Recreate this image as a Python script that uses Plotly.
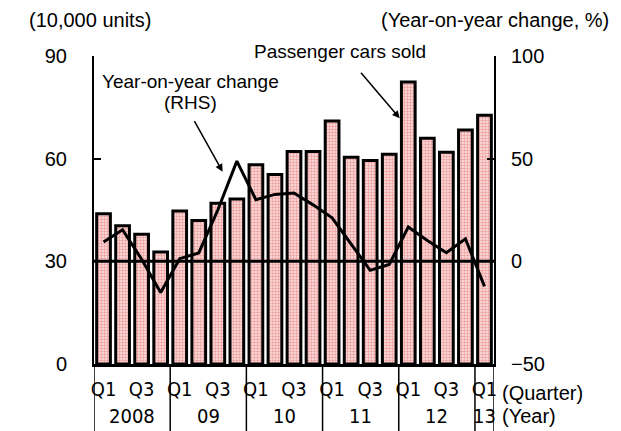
import plotly.graph_objects as go

quarters = ["Q1", "Q2", "Q3", "Q4"] * 5 + ["Q1"]
years = ["2008", "09", "10", "11", "12", "13"]
year_sizes = [4, 4, 4, 4, 4, 1]
cars_sold = [43.9, 40.4, 37.9, 32.7, 44.7, 41.9, 47.0, 48.2,
             58.2, 55.4, 62.1, 62.1, 71.0, 60.4, 59.5, 61.3,
             82.4, 66.0, 61.9, 68.4, 72.7]
yoy_change = [9.4, 15.4, 1.0, -15.2, 1.3, 4.1, 25.0, 48.8,
              30.0, 32.6, 33.3, 27.5, 21.2, 8.6, -4.4, -1.5,
              16.7, 10.2, 4.2, 11.0, -12.2]

idx = list(range(len(cars_sold)))
FONT = "Liberation Sans, Arial, sans-serif"
NARROW = "Liberation Sans Narrow, DejaVu Sans Condensed, Liberation Sans, sans-serif"

# page is offset by 8px body margin -> figure drawn 8px smaller
W, H = 613, 423

fig = go.Figure()
fig.add_trace(go.Bar(
    x=idx, y=cars_sold, yaxis="y",
    marker=dict(color="#f7c6c6",
                pattern=dict(shape=".", fgcolor="#ee9e9e", bgcolor="#fde4e4",
                             size=3, solidity=0.5, fillmode="replace"),
                line=dict(color="black", width=3)),
    width=0.72, showlegend=False))
fig.add_trace(go.Scatter(
    x=idx, y=yoy_change, yaxis="y2", mode="lines",
    line=dict(color="black", width=3), showlegend=False))

n = len(cars_sold)
fig.add_shape(type="line", xref="paper", yref="y2", x0=0, x1=1, y0=0, y1=0,
              line=dict(color="black", width=3), layer="above")
bounds = [-0.5]
for s in year_sizes:
    bounds.append(bounds[-1] + s)
for b in bounds:
    fig.add_shape(type="line", xref="x", yref="paper", x0=b, x1=b,
                  y0=0, y1=-0.25, line=dict(color="black", width=1.5))
start = -0.5
for yname, s in zip(years, year_sizes):
    fig.add_annotation(x=start + s / 2, y=-0.17, xref="x", yref="paper",
                       text=yname, showarrow=False, yanchor="middle",
                       font=dict(size=20, family=NARROW, color="black"))
    start += s

fig.add_annotation(x=1.015, y=-0.094, xref="paper", yref="paper", text="(Quarter)",
                   showarrow=False, xanchor="left", yanchor="middle",
                   font=dict(size=20, family=FONT, color="black"))
fig.add_annotation(x=1.015, y=-0.17, xref="paper", yref="paper", text="(Year)",
                   showarrow=False, xanchor="left", yanchor="middle",
                   font=dict(size=20, family=FONT, color="black"))

fig.add_annotation(x=-0.01, y=1.117, xref="paper", yref="paper", text="(10,000 units)",
                   showarrow=False, xanchor="center", yanchor="middle",
                   font=dict(size=20, family=FONT, color="black"))
fig.add_annotation(x=1.0025, y=1.117, xref="paper", yref="paper",
                   text="(Year-on-year change, %)",
                   showarrow=False, xanchor="center", yanchor="middle",
                   font=dict(size=20, family=FONT, color="black"))

fig.add_annotation(x=0.241, y=0.9156, xref="paper", yref="paper",
                   text="Year-on-year change", showarrow=False,
                   xanchor="center", yanchor="middle",
                   font=dict(size=19, family=FONT, color="black"))
fig.add_annotation(x=0.24, y=0.849, xref="paper", yref="paper",
                   text="(RHS)", showarrow=False,
                   xanchor="center", yanchor="middle",
                   font=dict(size=19, family=FONT, color="black"))
fig.add_annotation(x=6.25, y=56.2, xref="x", yref="y", text="",
                   showarrow=True, ax=-29, ay=-52, arrowhead=2,
                   arrowsize=1, arrowwidth=1.5, arrowcolor="black")
fig.add_annotation(x=0.615, y=1.016, xref="paper", yref="paper",
                   text="Passenger cars sold", showarrow=False,
                   xanchor="center", yanchor="middle",
                   font=dict(size=19, family=FONT, color="black"))
fig.add_annotation(x=15.55, y=71.8, xref="x", yref="y", text="",
                   showarrow=True, ax=-40, ay=-47, arrowhead=2,
                   arrowsize=1, arrowwidth=1.5, arrowcolor="black")

fig.update_layout(
    width=W, height=H,
    margin=dict(l=86, r=127, t=48, b=67),
    paper_bgcolor="white", plot_bgcolor="white",
    font=dict(family=FONT, size=20, color="black"),
    bargap=0.28,
    xaxis=dict(range=[-0.5, n - 0.5], tickmode="array",
               tickvals=idx[::2], ticktext=quarters[::2],
               showgrid=False, zeroline=False, ticks="",
               showline=True, linecolor="black", linewidth=3,
               tickfont=dict(size=20, family=NARROW), ticklabelstandoff=5),
    yaxis=dict(range=[0, 90], tickvals=[0, 30, 60, 90], showgrid=False,
               zeroline=False, ticks="inside", ticklen=7, tickwidth=2,
               tickcolor="black", showline=True, linecolor="black",
               linewidth=2, ticklabelstandoff=21),
    yaxis2=dict(range=[-50, 100], tickvals=[-50, 0, 50, 100],
                ticktext=["\u221250", "0", "50", "100"],
                overlaying="y", side="right", showgrid=False,
                zeroline=False, ticks="inside", ticklen=7, tickwidth=2,
                tickcolor="black", showline=True, linecolor="black",
                linewidth=2, ticklabelstandoff=11),
)

fig.write_html("out.html")
